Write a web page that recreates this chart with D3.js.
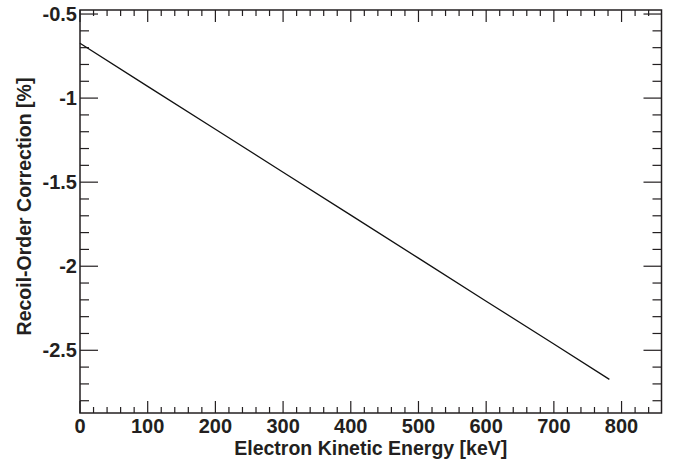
<!DOCTYPE html>
<html>
<meta charset="utf-8">
<style>
  body { margin: 0; padding: 0; background: #fff; }
  text { font-family: "Liberation Sans", Arial, sans-serif; font-weight: bold; fill: #231f20; }
  .tick-label { font-size: 20px; }
  .axis-title { font-size: 19.5px; }
</style>
<body>
<div id="chart"></div>
<script src="https://d3js.org/d3.v7.min.js"></script>
<script>

// data: energy in keV, correction in %
var energy = [0, 100, 200, 300, 400, 500, 600, 700, 782];
var correction = [-0.674, -0.930, -1.185, -1.441, -1.696, -1.952, -2.208, -2.463, -2.673];
var xTicks = [0, 100, 200, 300, 400, 500, 600, 700, 800];
var yTicks = [-0.5, -1, -1.5, -2, -2.5];
var yTickLabels = ["-0.5", "-1", "-1.5", "-2", "-2.5"];

var W = 681, H = 460;
var margin = {top: 10, right: 19.5, bottom: 47, left: 80};
var width = W - margin.left - margin.right,
    height = H - margin.top - margin.bottom;

var svg = d3.select("#chart").append("svg")
    .attr("width", W).attr("height", H)
  .append("g")
    .attr("transform", "translate(" + margin.left + "," + margin.top + ")");

var x = d3.scaleLinear().domain([0, 859]).range([0, width]);
var y = d3.scaleLinear().domain([-2.873, -0.476]).range([height, 0]);

// minor tick positions
var xMinor = d3.range(0, 860, 20).filter(function(v){ return v % 100 != 0; });
var yMinor = d3.range(-28, -4, 1).map(function(v){ return v / 10; })
    .filter(function(v){ return Math.abs(v * 2 - Math.round(v * 2)) > 1e-6; });

var tickColor = "#231f20";

// bottom & top ticks (pointing inward)
function xTickLines(vals, len, atTop) {
  svg.append("g").selectAll("line").data(vals).enter().append("line")
    .attr("x1", function(d){ return x(d); })
    .attr("x2", function(d){ return x(d); })
    .attr("y1", atTop ? 0 : height)
    .attr("y2", atTop ? len : height - len)
    .attr("stroke", tickColor).attr("stroke-width", 1.2);
}
xTickLines(xTicks, 12, false);
xTickLines(xMinor, 6, false);
xTickLines(xTicks, 12, true);
xTickLines(xMinor, 6, true);

// left & right ticks
function yTickLines(vals, len, atRight) {
  svg.append("g").selectAll("line").data(vals).enter().append("line")
    .attr("y1", function(d){ return y(d); })
    .attr("y2", function(d){ return y(d); })
    .attr("x1", atRight ? width : 0)
    .attr("x2", atRight ? width - len : len)
    .attr("stroke", tickColor).attr("stroke-width", 1.2);
}
yTickLines(yTicks, 18, false);
yTickLines(yMinor, 9, false);
yTickLines(yTicks, 18, true);
yTickLines(yMinor, 9, true);

// frame
svg.append("rect")
  .attr("x", 0).attr("y", 0)
  .attr("width", width).attr("height", height)
  .attr("fill", "none").attr("stroke", tickColor).attr("stroke-width", 1.5);

// tick labels
svg.append("g").selectAll("text").data(xTicks).enter().append("text")
  .attr("class", "tick-label")
  .attr("x", function(d){ return x(d); })
  .attr("y", height + 20)
  .attr("text-anchor", "middle")
  .text(function(d){ return d; });

svg.append("g").selectAll("text").data(yTicks).enter().append("text")
  .attr("class", "tick-label")
  .attr("x", -3)
  .attr("y", function(d){ return y(d) + 7; })
  .attr("text-anchor", "end")
  .text(function(d, i){ return yTickLabels[i]; });

// axis titles
svg.append("text")
  .attr("class", "axis-title")
  .attr("x", width / 2)
  .attr("y", height + 42)
  .attr("text-anchor", "middle")
  .text("Electron Kinetic Energy [keV]");

svg.append("text")
  .attr("class", "axis-title")
  .attr("transform", "rotate(-90)")
  .attr("x", -height / 2 + 5)
  .attr("y", -49)
  .attr("text-anchor", "middle")
  .text("Recoil-Order Correction [%]");

// the curve
var pts = energy.map(function(e, i){ return [e, correction[i]]; });
svg.append("path")
  .datum(pts)
  .attr("d", d3.line()
    .x(function(d){ return x(d[0]); })
    .y(function(d){ return y(d[1]); }))
  .attr("fill", "none")
  .attr("stroke", "#111")
  .attr("stroke-width", 1.3);

</script>
</body>
</html>
